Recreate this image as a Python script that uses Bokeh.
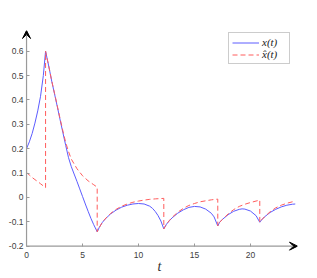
from bokeh.plotting import figure
from bokeh.models import Range1d, FixedTicker, Arrow, VeeHead, Legend, LegendItem
from bokeh.embed import file_html
from bokeh.resources import INLINE

# x(t) (solid blue)
t_x = [0.0, 0.25, 0.5, 0.75, 1.0, 1.25, 1.5, 1.7,
       2.0, 2.25, 2.5, 2.75, 3.0, 3.25, 3.5, 3.75, 4.0, 4.25, 4.5, 4.75,
       5.0, 5.25, 5.5, 5.75, 6.0, 6.31,
       6.5, 6.75, 7.0, 7.5, 8.0, 8.5, 9.0, 9.5, 10.0, 10.5, 11.0, 11.25,
       11.5, 11.75, 12.0, 12.26,
       12.5, 12.75, 13.0, 13.5, 14.0, 14.5, 15.0, 15.5, 16.0, 16.5, 16.75, 17.08,
       17.25, 17.5, 18.0, 18.5, 19.0, 19.25, 19.5, 20.0, 20.5, 20.83,
       21.0, 21.25, 21.75, 22.25, 22.75, 23.25, 23.75, 24.0]
x_vals = [0.200, 0.228, 0.262, 0.305, 0.355, 0.415, 0.500, 0.600,
          0.535, 0.477, 0.425, 0.372, 0.318, 0.265, 0.213, 0.163, 0.126, 0.096, 0.066, 0.035,
          0.004, -0.027, -0.057, -0.086, -0.112, -0.141,
          -0.123, -0.104, -0.090, -0.068, -0.052, -0.040, -0.032, -0.027, -0.025, -0.027, -0.036, -0.045,
          -0.058, -0.075, -0.097, -0.129,
          -0.110, -0.096, -0.084, -0.065, -0.051, -0.041, -0.037, -0.039, -0.048, -0.065, -0.080, -0.117,
          -0.102, -0.090, -0.071, -0.057, -0.049, -0.047, -0.048, -0.056, -0.075, -0.102,
          -0.092, -0.080, -0.062, -0.049, -0.039, -0.032, -0.028, -0.027]

# x-hat(t) (dashed red)
t_xhat = [0.0, 0.25, 0.5, 0.75, 1.0, 1.25, 1.5, 1.7,
          1.7, 2.0, 2.25, 2.5, 2.75, 3.0, 3.25, 3.5, 3.75, 4.0, 4.5, 5.0, 5.5, 6.0, 6.31,
          6.31, 6.5, 6.75, 7.0, 7.5, 8.0, 8.5, 9.0, 9.5, 10.0, 10.5, 11.0, 11.5, 12.26,
          12.26, 12.5, 12.75, 13.0, 13.5, 14.0, 14.5, 15.0, 15.5, 16.0, 16.5, 17.08,
          17.08, 17.25, 17.5, 18.0, 18.5, 19.0, 19.5, 20.0, 20.5, 20.83,
          20.83, 21.0, 21.25, 21.75, 22.25, 22.75, 23.25, 23.75, 24.0]
xhat_vals = [0.102, 0.092, 0.082, 0.073, 0.065, 0.056, 0.047, 0.040,
             0.600, 0.535, 0.478, 0.427, 0.375, 0.322, 0.272, 0.225, 0.188, 0.157, 0.118, 0.089, 0.068, 0.052, 0.042,
             -0.141, -0.123, -0.104, -0.089, -0.066, -0.049, -0.036, -0.027, -0.020, -0.015, -0.011, -0.008, -0.006, -0.004,
             -0.129, -0.110, -0.095, -0.082, -0.061, -0.045, -0.033, -0.025, -0.018, -0.014, -0.010, -0.007,
             -0.117, -0.102, -0.090, -0.068, -0.050, -0.037, -0.028, -0.021, -0.015, -0.011,
             -0.102, -0.092, -0.080, -0.059, -0.043, -0.032, -0.024, -0.018, -0.015]

x_ticks = [0, 5, 10, 15, 20]
y_ticks = [-0.2, -0.1, 0, 0.1, 0.2, 0.3, 0.4, 0.5, 0.6]
y_tick_labels = ["-0.2", "-0.1", "0", "0.1", "0.2", "0.3", "0.4", "0.5", "0.6"]
legend_labels = ["x(t)", "x\u0302(t)"]
x_axis_label = "t"

# axis extents (arrow tips) and a small pad so the arrow heads are not clipped
X_MIN, X_MAX = 0, 24.2
Y_MIN, Y_MAX = -0.2, 0.685
X_PAD, Y_PAD = 0.45, 0.022

p = figure(width=317, height=278,
           x_range=Range1d(X_MIN - X_PAD, X_MAX), y_range=Range1d(Y_MIN - Y_PAD, Y_MAX),
           output_backend="svg", toolbar_location=None,
           min_border_left=21, min_border_right=20, min_border_top=30, min_border_bottom=27)
p.outline_line_color = None
p.grid.visible = False
p.background_fill_color = "white"

axis_col = "#9a9a9a"
for ax in (p.xaxis[0], p.yaxis[0]):
    ax.axis_line_color = None
    ax.major_tick_line_color = axis_col
    ax.major_tick_line_width = 1
    ax.major_tick_in = 8
    ax.major_tick_out = -5
    ax.minor_tick_line_color = None
    ax.minor_tick_in = 0
    ax.minor_tick_out = 0
    ax.major_label_text_font = "Liberation Sans"
    ax.major_label_text_font_size = "8.5px"
    ax.major_label_text_color = "#404040"

p.xaxis.ticker = FixedTicker(ticks=x_ticks)
p.xaxis.major_label_standoff = 0
p.xaxis.axis_label = x_axis_label
p.xaxis.axis_label_text_font = "Liberation Serif"
p.xaxis.axis_label_text_font_style = "italic"
p.xaxis.axis_label_text_font_size = "14px"
p.xaxis.axis_label_text_color = "#333333"
p.xaxis.axis_label_standoff = -2
p.yaxis.ticker = FixedTicker(ticks=y_ticks)
p.yaxis.major_label_overrides = {v: s for v, s in zip(y_ticks, y_tick_labels)}
p.yaxis.major_label_standoff = -2

r1 = p.line(t_x, x_vals, line_color="#5c5cff", line_width=1)
r2 = p.line(t_xhat, xhat_vals, line_color="#ff5c5c", line_width=1, line_dash="5 3")

# axis lines with arrow heads
for xe, ye in ((X_MAX, Y_MIN), (X_MIN, Y_MAX)):
    p.add_layout(Arrow(end=VeeHead(size=8, fill_color="black", fill_alpha=1,
                                   line_color="black", line_width=1),
                       x_start=X_MIN, y_start=Y_MIN, x_end=xe, y_end=ye,
                       line_color=axis_col, line_width=1.2))

legend = Legend(items=[LegendItem(label=legend_labels[0], renderers=[r1]),
                       LegendItem(label=legend_labels[1], renderers=[r2])],
                location=(207, 187), orientation="vertical")
legend.label_text_font = "Liberation Serif"
legend.label_text_font_style = "italic"
legend.label_text_font_size = "11px"
legend.label_text_color = "#222222"
legend.label_width = 24
legend.glyph_width = 27
legend.glyph_height = 11
legend.label_height = 11
legend.label_standoff = 3
legend.spacing = 0
legend.padding = 3
legend.margin = 0
legend.border_line_color = "#9a9a9a"
legend.border_line_width = 1
legend.background_fill_alpha = 1
p.add_layout(legend)

open("out.html", "w").write(file_html(p, INLINE))
